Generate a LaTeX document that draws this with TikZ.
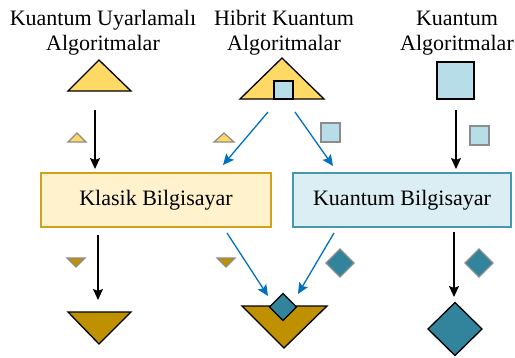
\documentclass[tikz,border=0pt]{standalone}
\usepackage{fontspec}
\setmainfont{Liberation Serif}
\newfontfamily\lserif{Liberation Serif}
\usetikzlibrary{arrows.meta}
\definecolor{yellowT}{HTML}{FFD966}
\definecolor{goldD}{HTML}{BF9000}
\definecolor{tealD}{HTML}{31849B}
\definecolor{lightB}{HTML}{B7DEE8}
\definecolor{boxYfill}{HTML}{FFF2CC}
\definecolor{boxYdraw}{HTML}{CFA21D}
\definecolor{boxBfill}{HTML}{DAEEF3}
\definecolor{boxBdraw}{HTML}{4696AC}
\definecolor{arrowblue}{HTML}{0070C0}
\definecolor{icongray}{HTML}{8C8C8C}
\begin{document}
\begin{tikzpicture}[x=1pt,y=-1pt,
  lbl/.style={align=center, font=\lserif\fontsize{22}{25}\selectfont, inner sep=0pt},
  bigshape/.style={draw=black, line width=1.3pt, line join=miter},
  icon/.style={draw=icongray, line width=1.2pt, line join=miter},
  compbox/.style={minimum height=54pt, line width=1.2pt, inner sep=0pt, font=\lserif\fontsize{22}{25}\selectfont},
  blk/.style={-{Stealth[length=11pt,width=10pt,inset=2pt]}, line width=1.3pt, black},
  blu/.style={-{Stealth[length=11pt,width=10pt,inset=2pt]}, line width=1.3pt, arrowblue}]
\useasboundingbox (0,0) rectangle (515,357);

% titles
\node[lbl, anchor=base] (t1) at (103,50) {Kuantum Uyarlamalı\\Algoritmalar};
\node[lbl, anchor=base] (t2) at (284,50) {Hibrit Kuantum\\Algoritmalar};
\node[lbl, anchor=base] (t3) at (457,50) {Kuantum\\Algoritmalar};

% top shapes
\draw[bigshape, fill=yellowT] (68,91) -- (99,60) -- (131,91) -- cycle;
\draw[bigshape, fill=yellowT] (240,99) -- (282,58) -- (324,99) -- cycle;
\draw[bigshape, fill=lightB] (274,81) rectangle (293,99);
\draw[bigshape, fill=lightB] (437,62) rectangle (474,99);

% boxes
\node[compbox, draw=boxYdraw, fill=boxYfill, minimum width=230pt] (kb) at (156,200) {Klasik Bilgisayar};
\node[compbox, draw=boxBdraw, fill=boxBfill, minimum width=218pt] (qb) at (402,200) {Kuantum Bilgisayar};

% arrow end points
\coordinate (a1s) at (95,110);  \coordinate (a1e) at (95,169);
\coordinate (a2s) at (268,112); \coordinate (a2e) at (223,165);
\coordinate (a3s) at (295,112); \coordinate (a3e) at (333,166);
\coordinate (a4s) at (456,110); \coordinate (a4e) at (456,169);
\coordinate (b1s) at (98,235);  \coordinate (b1e) at (98,300);
\coordinate (b2s) at (227,233); \coordinate (b2e) at (268,296);
\coordinate (b3s) at (334,233); \coordinate (b3e) at (298,294);
\coordinate (b4s) at (454,232); \coordinate (b4e) at (454,297);

\draw[blk] (a1s) -- (a1e);
\draw[blu] (a2s) -- (a2e);
\draw[blu] (a3s) -- (a3e);
\draw[blk] (a4s) -- (a4e);
\draw[blk] (b1s) -- (b1e);
\draw[blu] (b2s) -- (b2e);
\draw[blu] (b3s) -- (b3e);
\draw[blk] (b4s) -- (b4e);

% small icons (top)
\draw[icon, fill=yellowT] (68,142) -- (77,133) -- (86,142) -- cycle;
\draw[icon, fill=yellowT] (214,142) -- (224,133) -- (234,142) -- cycle;
\draw[icon, fill=lightB] (321,123) rectangle (340,142);
\draw[icon, fill=lightB] (470,126) rectangle (489,145);

% small icons (bottom)
\draw[icon, fill=goldD] (67,258) -- (85,258) -- (76,267) -- cycle;
\draw[icon, fill=goldD] (217,258) -- (235,258) -- (226,267) -- cycle;
\draw[icon, fill=tealD] (340,249) -- (354,263) -- (340,277) -- (326,263) -- cycle;
\draw[icon, fill=tealD] (479,249) -- (493,263) -- (479,277) -- (465,263) -- cycle;

% bottom shapes
\draw[bigshape, fill=goldD] (68,312) -- (131,312) -- (99,344) -- cycle;
\draw[bigshape, fill=goldD] (242,306) -- (327,306) -- (284,348) -- cycle;
\draw[bigshape, fill=tealD] (283,293.5) -- (296.5,307) -- (283,320.5) -- (269.5,307) -- cycle;
\draw[bigshape, fill=tealD] (455,302.5) -- (482,329) -- (455,355.5) -- (428,329) -- cycle;
\end{tikzpicture}
\end{document}
